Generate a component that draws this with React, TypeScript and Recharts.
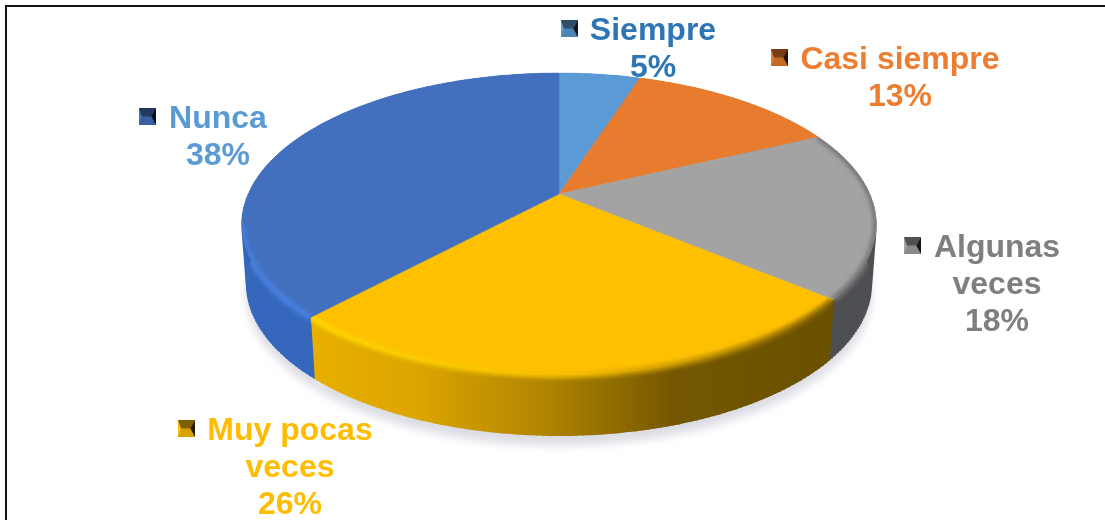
import {Pie, PieChart} from "recharts";
import {CSSProperties} from "react";

const names = ["Siempre", "Casi siempre", "Algunas veces", "Muy pocas veces", "Nunca"];
const values = [5, 13, 18, 26, 38];
const labelLines = [["Siempre"], ["Casi siempre"], ["Algunas", "veces"], ["Muy pocas", "veces"], ["Nunca"]];

const sliceColors = ["#5B9BD5", "#E87C2E", "#A3A3A3", "#FEC000", "#4270BF"];
const sideFills = ["#3F78AE", "#B85F20", "#4D4F52", "url(#yellowSide)", "#3567BC"];
const rimColors = ["#6FB0EE", "#F58A35", "#757575", "url(#yellowRim)", "#4A80E0"];
const rimStarts = [-2, -2, 0.45, 0, -0.2]; // how far back round the disc the bevel shows
const textColors = ["#2E75B6", "#ED7D31", "#7F7F7F", "#FFBC00", "#5B9BD5"];

// where each label block sits: text centre, first baseline, legend key corner
const labelPlaces = [
    {x: 653, y: 40, keyX: 561, keyY: 20},
    {x: 900, y: 69, keyX: 771, keyY: 49},
    {x: 997, y: 257, keyX: 904, keyY: 237},
    {x: 290, y: 440, keyX: 178, keyY: 420},
    {x: 218, y: 128, keyX: 139, keyY: 108},
];

const chartData = names.map((name, i) => ({name, value: values[i]}));

const APEX_X = 559;
const APEX_Y = 194;
const RADIUS = 310.7;
const FLATTEN = 0.4667; // vertical squash of the disc
const PERSPECTIVE = 0.1987;
const DEPTH = 61;
const BASE_SHRINK = 0.985; // lower edge of the wall is a bit narrower

// tilted disc, the far edge is narrower than the near one
const project = (cx: number, cy: number, r: number, pieAngle: number) => {
    const a = (pieAngle * Math.PI) / 180;
    const u = Math.cos(a);
    const v = Math.sin(a);
    const w = 1 + PERSPECTIVE * v;
    return {x: cx + (r * u) / w, y: cy - (r * FLATTEN * v) / w};
};

const arcPoints = (props: any, maxSin = 2) => {
    const {cx, cy, outerRadius, startAngle, endAngle} = props;
    const steps = Math.max(4, Math.ceil(Math.abs(startAngle - endAngle)));
    const points = [];
    for (let i = 0; i <= steps; i++) {
        const angle = startAngle + ((endAngle - startAngle) * i) / steps;
        if (Math.sin((angle * Math.PI) / 180) > maxSin) continue;
        points.push(project(cx, cy, outerRadius, angle));
    }
    return points;
};

const toPath = (points: { x: number, y: number }[]) =>
    points.map((p, i) => `${i === 0 ? "M" : "L"}${p.x.toFixed(1)} ${p.y.toFixed(1)}`).join(" ");

const basePoint = (p: { x: number, y: number }, cx: number, extra = 0) => ({
    x: cx + (p.x - cx) * BASE_SHRINK,
    y: p.y + DEPTH + extra,
});

const ShadowSector = (props: any) => {
    const arc = arcPoints(props).map((p) => basePoint(p, props.cx, 9));
    const d = toPath(arc) + ` L${props.cx} ${props.cy + DEPTH} Z`;
    return <path d={d} fill="#DCDCE4" stroke="#DCDCE4" filter="url(#softShadow)"/>;
};

const wallPath = (props: any) => {
    const top = arcPoints(props);
    const bottom = top.map((p) => basePoint(p, props.cx)).reverse();
    return toPath([...top, ...bottom]) + " Z";
};

const SideSector = (props: any) => {
    const i = names.indexOf(props.name);
    // the connectors fill the turn at the far left and right, where the two arcs cross
    const connectors = arcPoints(props)
        .map((p) => {
            const b = basePoint(p, props.cx);
            return `M${p.x.toFixed(1)} ${p.y.toFixed(1)} L${b.x.toFixed(1)} ${b.y.toFixed(1)}`;
        })
        .join(" ");
    return (
        <g>
            <path d={wallPath(props)} fill={sideFills[i]} stroke="none"/>
            <path d={connectors} fill="none" stroke={sideFills[i]} strokeWidth={1.5}/>
        </g>
    );
};

const TopSector = (props: any) => {
    const i = names.indexOf(props.name);
    const d = toPath(arcPoints(props)) + ` L${props.cx} ${props.cy} Z`;
    const rim = arcPoints(props, rimStarts[i]);
    return (
        <g>
            <clipPath id={`sliceClip${i}`}>
                <path d={d}/>
                <path d={wallPath(props)}/>
            </clipPath>
            <path d={d} fill={sliceColors[i]} stroke={sliceColors[i]} strokeWidth={0.5}/>
            {rim.length > 1 && (
                <g clipPath={`url(#sliceClip${i})`}>
                    <path d={toPath(rim)} fill="none" stroke={rimColors[i]} strokeWidth={6} filter="url(#softRim)"/>
                </g>
            )}
        </g>
    );
};

const SliceLabel = (props: any) => {
    const i = names.indexOf(props.name);
    const place = labelPlaces[i];
    const lines = [...labelLines[i], `${Math.round(props.percent * 100)}%`];
    const kx = place.keyX;
    const ky = place.keyY;
    const s = 17;
    const mx = kx + s * 0.72;
    const my = ky + s / 2;
    return (
        <g>
            <g filter="url(#softKey)">
                <rect x={kx} y={ky} width={s} height={s} fill={sliceColors[i]}/>
                <polygon points={`${kx},${ky} ${kx + s},${ky} ${mx},${my} ${kx + 3},${my}`} fill="#000" opacity={0.5}/>
                <polygon points={`${kx + s},${ky} ${kx + s},${ky + s} ${mx},${my}`} fill="#000" opacity={0.85}/>
                <polygon points={`${kx},${ky + s} ${kx + s},${ky + s} ${mx},${my} ${kx + 3},${my}`} fill="#000" opacity={0.15}/>
            </g>
            {lines.map((line, n) => (
                <text key={n} x={place.x} y={place.y + n * 37} textAnchor="middle" fill={textColors[i]}
                      fontFamily="'Liberation Sans', Arial, sans-serif" fontWeight="bold" fontSize={32}>
                    {line}
                </text>
            ))}
        </g>
    );
};

const App = () => {
    const frame: CSSProperties = {
        position: "absolute",
        left: 5,
        top: 5,
        right: 0,
        bottom: 0,
        borderTop: "2px solid #111",
        borderLeft: "2px solid #111",
    };

    return (
        <div style={{position: "fixed", left: 0, top: 0, width: 1105, height: 520, background: "#fff", overflow: "hidden"}}>
            <div style={frame}/>
            <div style={{position: "absolute", left: 0, top: 0, filter: "blur(0.4px)"}}>
                <PieChart width={1105} height={520} margin={{top: 0, right: 0, bottom: 0, left: 0}}>
                    <defs>
                        <linearGradient id="yellowSide" gradientUnits="userSpaceOnUse" x1={310} y1={0} x2={830} y2={0}>
                            <stop offset="0" stopColor="#E8AF00"/>
                            <stop offset="0.2" stopColor="#DDA600"/>
                            <stop offset="0.45" stopColor="#B08500"/>
                            <stop offset="0.7" stopColor="#745700"/>
                            <stop offset="1" stopColor="#6A5000"/>
                        </linearGradient>
                        <linearGradient id="yellowRim" gradientUnits="userSpaceOnUse" x1={310} y1={0} x2={830} y2={0}>
                            <stop offset="0" stopColor="#FFD800"/>
                            <stop offset="0.5" stopColor="#F5BC00"/>
                            <stop offset="0.8" stopColor="#B08500"/>
                            <stop offset="1" stopColor="#8A6800"/>
                        </linearGradient>
                        <filter id="softShadow" x="-10%" y="-10%" width="120%" height="120%">
                            <feGaussianBlur stdDeviation="4"/>
                        </filter>
                        <filter id="softRim" x="-20%" y="-20%" width="140%" height="140%">
                            <feGaussianBlur stdDeviation="2"/>
                        </filter>
                        <filter id="softKey" x="-20%" y="-20%" width="140%" height="140%">
                            <feGaussianBlur stdDeviation="0.5"/>
                        </filter>
                    </defs>
                    <Pie data={chartData} dataKey="value" nameKey="name" cx={APEX_X} cy={APEX_Y} outerRadius={RADIUS}
                         startAngle={90} endAngle={-270} shape={ShadowSector} isAnimationActive={false}/>
                    <Pie data={chartData} dataKey="value" nameKey="name" cx={APEX_X} cy={APEX_Y} outerRadius={RADIUS}
                         startAngle={90} endAngle={-270} shape={SideSector} isAnimationActive={false}/>
                    <Pie data={chartData} dataKey="value" nameKey="name" cx={APEX_X} cy={APEX_Y} outerRadius={RADIUS}
                         startAngle={90} endAngle={-270} shape={TopSector} label={SliceLabel} labelLine={false}
                         isAnimationActive={false}/>
                </PieChart>
            </div>
        </div>
    );
};

export default App;
